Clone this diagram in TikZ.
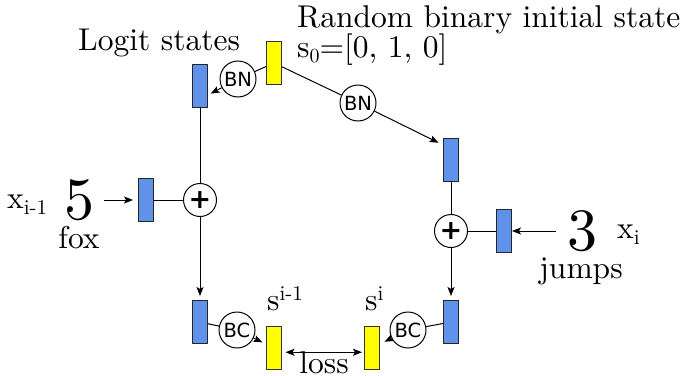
\documentclass[tikz,border=0pt]{standalone}
\usepackage{fontspec}
\setmainfont{lmroman10-regular.otf}
\newfontfamily\dejavu{DejaVu Sans}
\newfontfamily\dejavub{DejaVu Sans Bold}
\usetikzlibrary{arrows.meta}
\definecolor{boxblue}{RGB}{96,146,234}
\definecolor{boxyellow}{RGB}{255,255,0}
\newcommand\txtsize{\fontsize{31.5}{36}\selectfont}
\newcommand\mysub[1]{\raisebox{-6pt}{\fontsize{21}{21}\selectfont #1}}
\newcommand\mysup[1]{\raisebox{10pt}{\fontsize{21}{21}\selectfont #1}}
\newcommand\mysubz[1]{\raisebox{-5pt}{\fontsize{20}{20}\selectfont #1}}
\tikzset{
  bbox/.style={draw=black!85, line width=1pt, fill=boxblue, minimum width=15pt, minimum height=43pt, inner sep=0pt},
  ybox/.style={draw=black!80, line width=1pt, fill=boxyellow, minimum width=15pt, minimum height=43pt, inner sep=0pt},
  circ/.style={circle, draw, line width=1pt, fill=white, minimum size=36pt, inner sep=0pt, font=\dejavu\fontsize{19.5}{19.5}\selectfont},
  pcirc/.style={circle, draw, line width=1pt, fill=white, minimum size=33pt, inner sep=0pt, font=\dejavub\fontsize{27}{27}\selectfont},
  lbl/.style={inner sep=0pt, font=\txtsize},
  bigdigit/.style={inner sep=0pt, font=\fontsize{60}{62}\selectfont},
  arr/.style={line width=1pt, -{Stealth[length=9pt,width=7pt,inset=2pt]}},
  arrtwo/.style={line width=1pt, {Stealth[length=9pt,width=7pt,inset=2pt]}-{Stealth[length=9pt,width=7pt,inset=2pt]}},
  conn/.style={line width=1pt}
}
\begin{document}
\begin{tikzpicture}[x=1pt,y=-1pt]
\useasboundingbox (0,0) rectangle (687,375);
% boxes
\node[ybox] (s0) at (274,63) {};
\node[bbox] (b1) at (200,85.5) {};
\node[bbox] (b2) at (451,160) {};
\node[bbox] (inL) at (146,200) {};
\node[bbox] (inR) at (504,231) {};
\node[bbox] (b3) at (200,322) {};
\node[bbox] (b4) at (451,322) {};
\node[ybox] (y1) at (274,348) {};
\node[ybox] (y2) at (372,348) {};
% circles
\node[circ] (bnL) at (238,79) {BN};
\node[circ] (bnR) at (358,103) {BN};
\node[pcirc] (plusL) at (200,200) {+};
\node[pcirc] (plusR) at (451,231) {+};
\node[circ] (bcL) at (237,330) {BC};
\node[circ] (bcR) at (408,330) {BC};
% digits
\node[bigdigit] (five) at (79,200) {5};
\node[bigdigit] (three) at (582,231) {3};
% labels
\node[lbl, anchor=base west] (t1) at (297,27) {Random binary initial state};
\node[lbl, anchor=base west] (t2) at (297,57) {s\mysubz{0}=[0, 1, 0]};
\node[lbl, anchor=base west] (t3) at (78,50.5) {Logit states};
\node[lbl, anchor=base west] (xl) at (7,208) {x\mysub{i-1}};
\node[lbl, anchor=base] (fox) at (79,248) {fox};
\node[lbl, anchor=base west] (xr) at (617,238) {x\mysub{i}};
\node[lbl, anchor=base] (jumps) at (581,278) {jumps};
\node[lbl, anchor=base west] (si1) at (267,310) {s\mysup{i-1}};
\node[lbl, anchor=base west] (si) at (365,310) {s\mysup{i}};
\node[lbl, anchor=base] (loss) at (324,373.5) {loss};
% connectors
\draw[conn] (s0) -- (bnL);
\draw[arr, shorten >=3pt] (bnL) -- (b1.-50);
\draw[conn] (s0) -- (bnR);
\draw[arr, shorten >=5pt] (bnR) -- (b2.118);
\draw[conn] (b1) -- (plusL);
\draw[arr, shorten >=4pt] (plusL) -- (b3);
\draw[conn] (b2) -- (plusR);
\draw[arr, shorten >=4pt] (plusR) -- (b4);
\draw[arr, shorten <=10pt, shorten >=5pt] (five) -- (inL);
\draw[conn] (inL) -- (plusL);
\draw[arr, shorten <=11pt] (three) -- (inR);
\draw[conn] (inR) -- (plusR);
\draw[conn] (b3) -- (bcL);
\draw[arr, shorten >=4pt] (bcL) -- (y1);
\draw[conn] (b4) -- (bcR);
\draw[arr, shorten >=5pt] (bcR) -- (y2);
\draw[arrtwo, shorten <=3.5pt, shorten >=2pt] (y1.-28) -- (y2.208);
\end{tikzpicture}
\end{document}
